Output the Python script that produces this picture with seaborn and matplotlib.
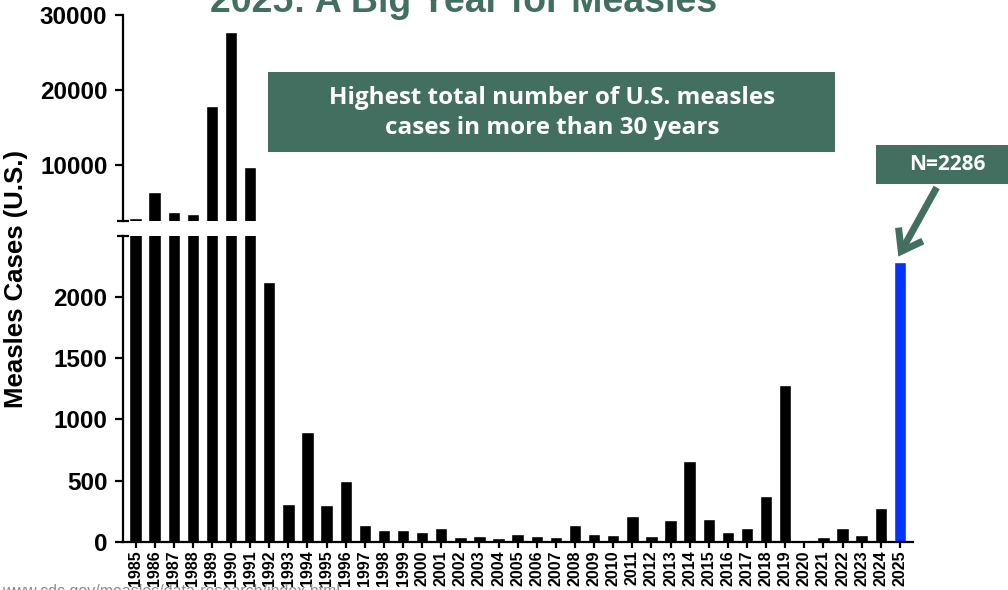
import matplotlib
matplotlib.use("Agg")
import matplotlib.pyplot as plt
from matplotlib.patches import FancyArrowPatch, Rectangle
import seaborn as sns
import pandas as pd

# U.S. measles cases by year
years = [str(y) for y in range(1985, 2026)]
cases = [2822, 6282, 3655, 3396, 17900, 27700, 9643, 2126, 310, 900,
         302, 493, 137, 96, 96, 80, 112, 39, 47, 31,
         63, 47, 38, 137, 63, 55, 211, 47, 178, 663,
         186, 79, 112, 375, 1279, 5, 38, 112, 55, 277,
         2286]
highlight_year = "2025"
lower_ticks = [0, 500, 1000, 1500, 2000]
upper_ticks = [10000, 20000, 30000]
lower_range = (0, 2500)
upper_range = (2500, 30000)

GREEN = "#436F60"
BLUE = "#0433FF"

sns.set_theme(style="ticks")
plt.rcParams["font.family"] = ["Liberation Sans", "DejaVu Sans"]
plt.rcParams["font.weight"] = "bold"
for key in ("text.color", "axes.labelcolor", "xtick.color", "ytick.color"):
    plt.rcParams[key] = "black"

df = pd.DataFrame({"year": years, "cases": cases})
palette = {y: (BLUE if y == highlight_year else "black") for y in years}

W, H = 1008, 590
fig = plt.figure(figsize=(W / 100, H / 100), dpi=100)


def px(x0, y0, x1, y1):
    """Pixel box (left, top, right, bottom) -> figure rect."""
    return [x0 / W, 1 - y1 / H, (x1 - x0) / W, (y1 - y0) / H]


ax_lo = fig.add_axes(px(122.7, 236, 912.7, 541.7))
ax_hi = fig.add_axes(px(122.7, 15.3, 912.7, 220.7))

for ax in (ax_lo, ax_hi):
    sns.barplot(data=df, x="year", y="cases", hue="year", palette=palette,
                legend=False, width=0.65, saturation=1, ax=ax)
    ax.set_xlim(-0.67, len(years) - 1 + 0.67)
    ax.set_xlabel("")
    ax.set_ylabel("")
    for side in ("top", "right"):
        ax.spines[side].set_visible(False)
    for s in ax.spines.values():
        s.set_linewidth(1.6)
        s.set_color("black")
    ax.tick_params(axis="y", length=6, width=1.6, labelsize=17.5, pad=5)
    for lab in ax.get_yticklabels():
        lab.set_fontweight("bold")

ax_lo.set_ylim(*lower_range)
ax_lo.set_yticks(lower_ticks)
ax_lo.tick_params(axis="x", length=4, width=1.6, labelsize=11.5, pad=2,
                  labelrotation=90)
for lab in ax_lo.get_xticklabels():
    lab.set_fontweight("bold")

ax_hi.set_ylim(*upper_range)
ax_hi.set_yticks(upper_ticks)
ax_hi.spines["bottom"].set_visible(False)
ax_hi.tick_params(axis="x", bottom=False, labelbottom=False)

# break markers at the ends of the split y axis
ax_hi.plot([0], [0], marker="_", markersize=8.5, mew=1.6, color="black",
           transform=ax_hi.transAxes, clip_on=False)
ax_lo.plot([0], [1], marker="_", markersize=8.5, mew=1.6, color="black",
           transform=ax_lo.transAxes, clip_on=False)

# axis label shared by both panels
fig.text(16 / W, 1 - 279 / H, "Measles Cases (U.S.)", rotation=90,
         ha="center", va="center", fontsize=18.5, fontweight="bold")

# title
fig.text(464 / W, 1 - 12 / H, "2025: A Big Year for Measles", ha="center",
         va="baseline", fontsize=27, fontweight="bold", color=GREEN)

# callout box
fig.patches.append(Rectangle((268 / W, 1 - 152 / H), (835 - 268) / W, 80 / H,
                             transform=fig.transFigure, facecolor=GREEN,
                             edgecolor="none"))
fig.text(552 / W, 1 - 113 / H,
         "Highest total number of U.S. measles\ncases in more than 30 years",
         ha="center", va="center", fontsize=17.5, fontweight="bold",
         color="white", family=["Open Sans", "DejaVu Sans"], linespacing=1.3)

# value box with arrow to the highlighted bar
fig.patches.append(Rectangle((876 / W, 1 - 184 / H), (1008 - 876) / W, 39 / H,
                             transform=fig.transFigure, facecolor=GREEN,
                             edgecolor="none"))
fig.text(947 / W, 1 - 164 / H, "N=2286", ha="center", va="center",
         fontsize=15, fontweight="bold", color="white",
         family=["Open Sans", "DejaVu Sans"])
fig.patches.append(FancyArrowPatch((938 / W, 1 - 185 / H), (897 / W, 1 - 259 / H),
                                   transform=fig.transFigure,
                                   arrowstyle="->,head_length=14,head_width=10",
                                   mutation_scale=1, lw=5, color=GREEN,
                                   capstyle="butt", joinstyle="miter"))

# data source
fig.text(2 / W, 1 - 584 / H, "www.cdc.gov/measles/data-research/index.html",
         ha="left", va="top", fontsize=11.5, fontweight="normal", color="#8a8a8a",
         zorder=0)

fig.savefig("out.png", dpi=100)
